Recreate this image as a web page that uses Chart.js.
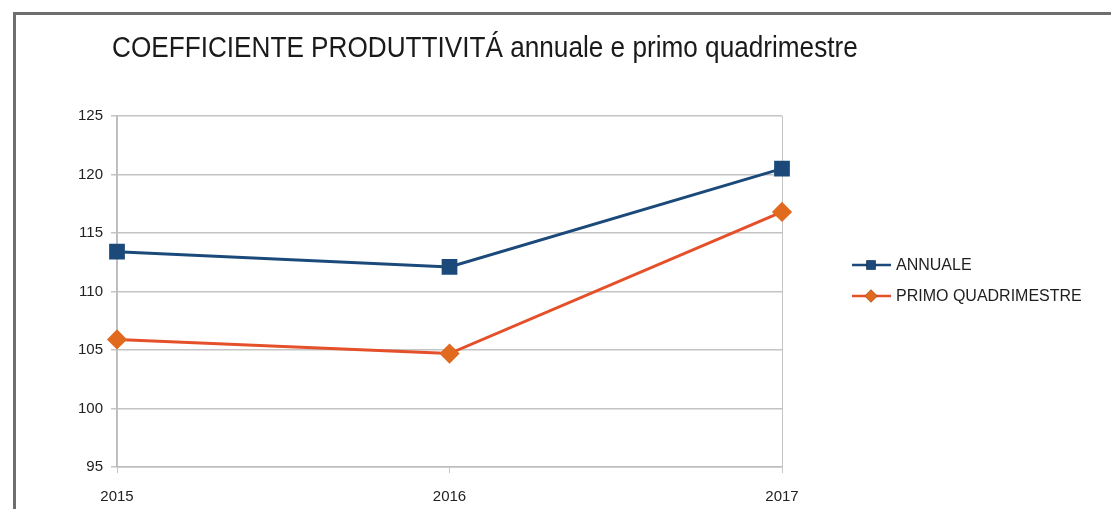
<!DOCTYPE html>
<html>
<head>
<meta charset="utf-8">
<script src="https://cdn.jsdelivr.net/npm/chart.js@4/dist/chart.umd.min.js"></script>
<style>
  html, body { margin: 0; padding: 0; background: #fff; }
  #wrap { position: relative; width: 1111px; height: 509px; overflow: hidden; }
  #frame {
    position: absolute; left: 13px; top: 12px; width: 1200px; height: 600px;
    border-left: 3px solid #6e6e6e; border-top: 3px solid #6e6e6e;
    filter: blur(0.6px);
  }
  #title {
    position: absolute; left: 112px; top: 31px; margin: 0;
    font: 400 29px "Liberation Sans Narrow", "Liberation Sans", Arial, sans-serif;
    color: #1a1a1a; white-space: nowrap; transform-origin: 0 0;
  }
  canvas { position: absolute; left: 0; top: 0; }
</style>
</head>
<body>
<div id="wrap">
  <div id="frame"></div>
  <h1 id="title">COEFFICIENTE PRODUTTIVITÁ annuale e primo quadrimestre</h1>
  <canvas id="chart" width="1111" height="509"></canvas>
</div>
<script>
// anni e valori del coefficiente
const anni = ['2015', '2016', '2017'];
const annuale = [113.4, 112.1, 120.5];
const primoQuadrimestre = [105.9, 104.7, 116.8];
const yMin = 95, yMax = 125, yStep = 5;

const FONT = '"Liberation Sans Narrow", "Liberation Sans", Arial, sans-serif';
const BLU = '#1b4a7a';
const ARANCIO = '#e5502a';

// titolo compresso in larghezza
const titolo = document.getElementById('title');
titolo.style.transform = 'scaleX(' + (746 / titolo.offsetWidth) + ')';

// legenda a destra con linea e marcatore
const legendaLaterale = {
  id: 'legendaLaterale',
  afterDraw(chart) {
    const ctx = chart.ctx;
    const righe = [
      { ds: chart.data.datasets[0], y: 265, stile: 'rect', r: 6.5 },
      { ds: chart.data.datasets[1], y: 296, stile: 'rectRot', r: 6.5 }
    ];
    ctx.save();
    righe.forEach(r => {
      ctx.strokeStyle = r.ds.borderColor;
      ctx.lineWidth = 2.5;
      ctx.beginPath();
      ctx.moveTo(852, r.y);
      ctx.lineTo(891, r.y);
      ctx.stroke();
      Chart.helpers.drawPoint(ctx, {
        pointStyle: r.stile, radius: r.r, borderWidth: 0
      }, 871, r.y);
      ctx.fillStyle = r.ds.pointBackgroundColor;
      ctx.fill();
      ctx.fillStyle = '#1e1e1e';
      ctx.font = '16px ' + FONT;
      ctx.textBaseline = 'middle';
      ctx.fillText(r.ds.label, 896, r.y + 1);
    });
    ctx.restore();
  }
};

new Chart(document.getElementById('chart'), {
  type: 'line',
  data: {
    labels: anni,
    datasets: [{
      label: 'ANNUALE',
      data: annuale,
      borderColor: BLU,
      backgroundColor: BLU,
      pointBackgroundColor: BLU,
      pointBorderColor: BLU,
      borderWidth: 3,
      pointStyle: 'rect',
      pointRadius: 9,
      tension: 0
    }, {
      label: 'PRIMO QUADRIMESTRE',
      data: primoQuadrimestre,
      borderColor: ARANCIO,
      backgroundColor: '#e06a1e',
      pointBackgroundColor: '#e06a1e',
      pointBorderColor: '#e06a1e',
      borderWidth: 3,
      pointStyle: 'rectRot',
      pointRadius: 8,
      tension: 0
    }]
  },
  options: {
    responsive: false,
    animation: false,
    layout: { padding: { left: 0, top: 116, right: 329, bottom: 0 } },
    plugins: {
      legend: { display: false },
      tooltip: { enabled: false }
    },
    scales: {
      x: {
        offset: false,
        afterFit(scale) { scale.height = 42; },
        grid: {
          color: c => c.index === 1 ? 'rgba(0,0,0,0)' : '#c4c4c4',
          tickColor: '#c4c4c4',
          tickLength: 6,
          lineWidth: 1
        },
        border: { color: '#bdbdbd', width: 1.5 },
        ticks: {
          color: '#222', padding: 15, maxRotation: 0,
          font: { family: FONT, size: 15 }
        }
      },
      y: {
        min: yMin, max: yMax,
        afterFit(scale) { scale.width = 117; },
        grid: { color: '#c4c4c4', tickColor: '#c4c4c4', tickLength: 6, lineWidth: 1.5 },
        border: { color: '#bdbdbd', width: 1.5 },
        ticks: {
          stepSize: yStep, color: '#222', padding: 8,
          font: { family: FONT, size: 15 }
        }
      }
    }
  },
  plugins: [legendaLaterale]
});
</script>
</body>
</html>
